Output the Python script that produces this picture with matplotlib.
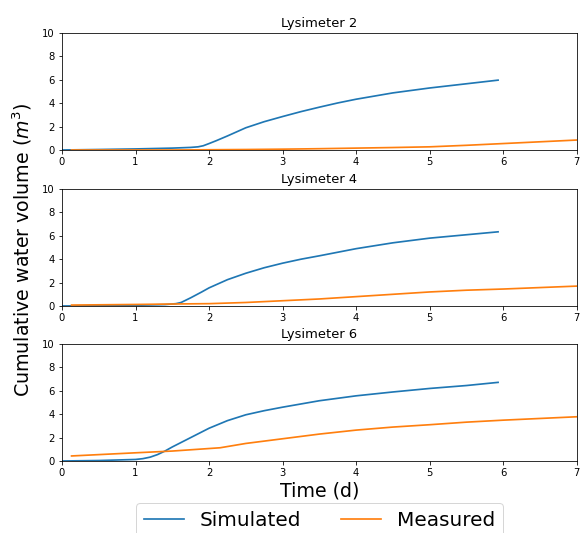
import matplotlib
matplotlib.use('Agg')
import matplotlib.pyplot as plt

# simulated outflow, days
sim_t2 = [0, 0.5, 1.0, 1.5, 1.75, 1.85, 1.92, 2.0, 2.1, 2.25, 2.5, 2.75, 3.0, 3.25, 3.5,
          3.75, 4.0, 4.5, 5.0, 5.5, 5.93]
sim_lys2 = [0, 0.04, 0.09, 0.16, 0.22, 0.27, 0.36, 0.55, 0.8, 1.2, 1.9, 2.42, 2.86, 3.28, 3.66,
            4.02, 4.34, 4.88, 5.3, 5.66, 5.97]

sim_t4 = [0, 0.5, 1.0, 1.4, 1.55, 1.62, 1.75, 1.9, 2.0, 2.25, 2.5, 2.75, 3.0, 3.25, 3.5,
          4.0, 4.5, 5.0, 5.5, 5.93]
sim_lys4 = [0, 0.03, 0.06, 0.12, 0.2, 0.3, 0.7, 1.2, 1.55, 2.25, 2.8, 3.27, 3.66, 4.0, 4.29,
            4.9, 5.4, 5.8, 6.09, 6.34]

sim_t6 = [0, 0.5, 1.0, 1.1, 1.2, 1.3, 1.4, 1.5, 1.75, 2.0, 2.25, 2.5, 2.75, 3.0, 3.5,
          4.0, 4.5, 5.0, 5.5, 5.93]
sim_lys6 = [0, 0.04, 0.13, 0.2, 0.33, 0.55, 0.85, 1.2, 2.0, 2.8, 3.45, 3.95, 4.3, 4.6, 5.15,
            5.57, 5.9, 6.2, 6.45, 6.72]

# measured outflow
meas_t = [0.13, 1.0, 1.5, 2.0, 2.5, 3.0, 3.5, 4.0, 4.5, 5.0, 5.5, 6.0, 7.0]
meas_lys2 = [0.0, 0.0, 0.0, 0.02, 0.04, 0.07, 0.11, 0.16, 0.21, 0.27, 0.4, 0.55, 0.85]
meas_lys4 = [0.08, 0.13, 0.17, 0.2, 0.3, 0.45, 0.6, 0.8, 1.0, 1.2, 1.35, 1.45, 1.7]

meas_t6 = [0.13, 1.0, 1.5, 2.15, 2.5, 3.0, 3.5, 4.0, 4.5, 5.0, 5.5, 6.0, 7.0]
meas_lys6 = [0.43, 0.7, 0.85, 1.13, 1.5, 1.9, 2.3, 2.64, 2.9, 3.1, 3.32, 3.49, 3.78]

panels = [
    ('Lysimeter 2', sim_t2, sim_lys2, meas_t, meas_lys2),
    ('Lysimeter 4', sim_t4, sim_lys4, meas_t, meas_lys4),
    ('Lysimeter 6', sim_t6, sim_lys6, meas_t6, meas_lys6),
]

fig = plt.figure(figsize=(581 / 72, 533 / 72), dpi=72)
bottoms = [0.7186, 0.4259, 0.1351]

axes = []
for (title, st, sv, mt, mv), b in zip(panels, bottoms):
    ax = fig.add_axes([0.1067, b, 0.886, 0.2195])
    ax.plot(st, sv, color='#1f77b4', linewidth=1.7, label='Simulated')
    ax.plot(mt, mv, color='#ff7f0e', linewidth=1.7, label='Measured')
    ax.set_xlim(0, 7)
    ax.set_ylim(0, 10)
    ax.set_yticks([0, 2, 4, 6, 8, 10])
    ax.tick_params(labelsize=10)
    ax.set_title(title, fontsize=13)
    axes.append(ax)

fig.text(22 / 581, 1 - 250 / 533, 'Cumulative water volume ($m^3$)',
         rotation=90, ha='center', va='center', fontsize=19)
axes[2].set_xlabel('Time (d)', fontsize=19, labelpad=4)
axes[2].legend(loc='upper center', bbox_to_anchor=(0.5, -0.36), borderaxespad=0,
               ncol=2, fontsize=20)

plt.savefig('out.png', dpi=72)
